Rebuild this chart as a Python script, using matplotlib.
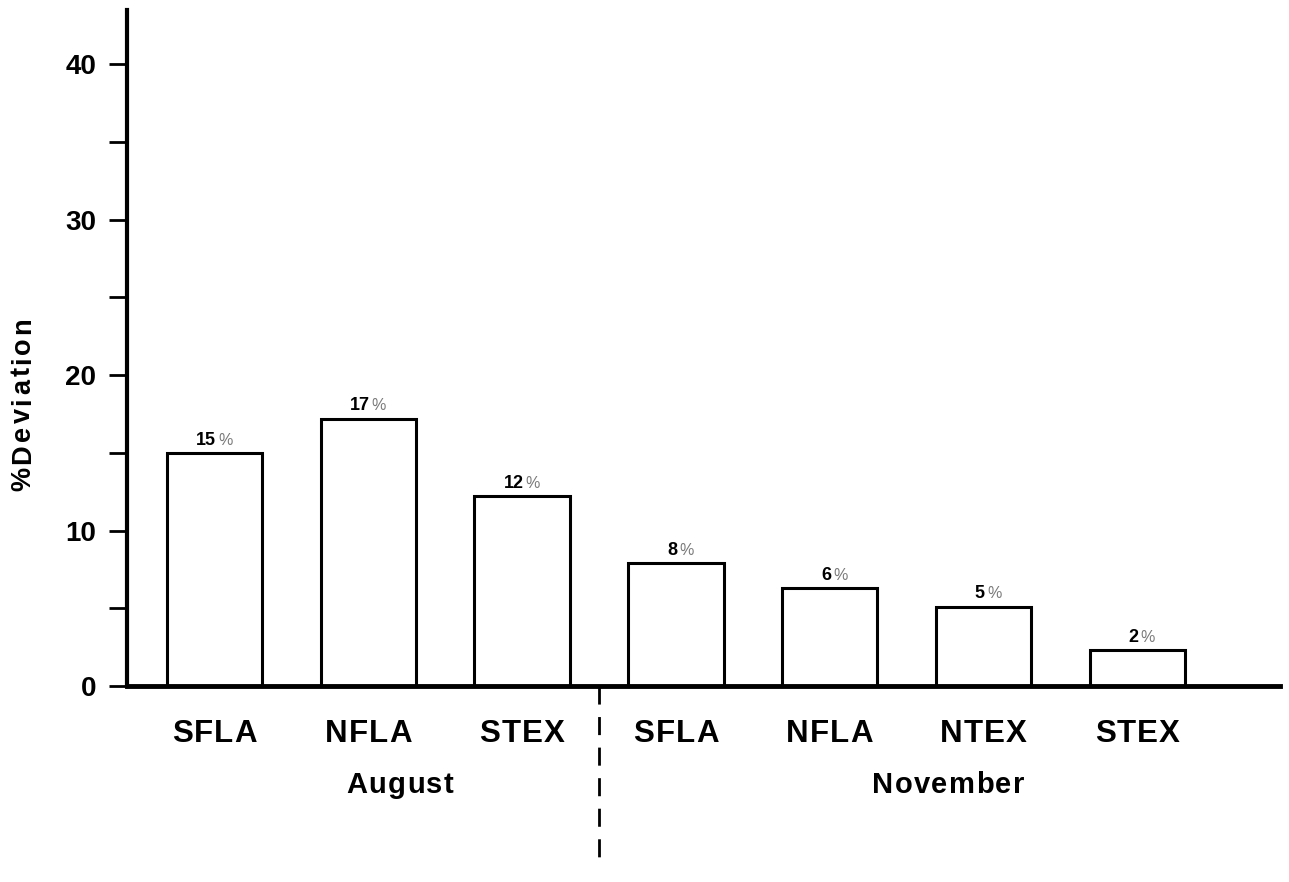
import matplotlib
matplotlib.use("Agg")
import matplotlib.pyplot as plt
from matplotlib.font_manager import FontProperties, findfont, get_font

categories = ["SFLA", "NFLA", "STEX", "SFLA", "NFLA", "NTEX", "STEX"]
values = [15.0, 17.2, 12.2, 7.9, 6.3, 5.1, 2.3]
bar_labels = ["15", "17", "12", "8", "6", "5", "2"]
groups = ["August", "November"]
group_centers = [1.206, 4.77]
yticks = [0, 10, 20, 30, 40]
yminor = [5, 15, 25, 35]

FAMILY = ['Liberation Sans', 'DejaVu Sans']
plt.rcParams['font.family'] = FAMILY


def char_advances(s, size, weight):
    fp = FontProperties(family=FAMILY, size=size, weight=weight)
    font = get_font(findfont(fp))
    font.set_size(size, 72)
    return [font.load_char(ord(c)).linearHoriAdvance / 65536 for c in s]


def tracked(ax, xy, s, size, track, xycoords='data', offset=(0, 0),
            rotation=0, weight='bold', color='black'):
    adv = char_advances(s, size, weight)
    total = sum(adv) + track * (len(s) - 1)
    pos = -total / 2
    for c, a in zip(s, adv):
        if rotation == 0:
            off = (offset[0] + pos, offset[1])
        else:
            off = (offset[0], offset[1] + pos)
        ax.annotate(c, xy, xycoords=xycoords, xytext=off, textcoords='offset points',
                    ha='left', va='baseline', rotation=rotation, rotation_mode='anchor',
                    fontsize=size, fontweight=weight, color=color, annotation_clip=False)
        pos += a + track


fig = plt.figure(figsize=(12.89, 8.82), dpi=100)
ax = fig.add_axes([127/1289, 1-686/882, (1280-127)/1289, (686-10)/882])

x = list(range(len(values)))
ax.bar(x, values, width=0.62, facecolor='white', edgecolor='black', linewidth=2.2, zorder=2)

for xi, v, lab in zip(x, values, bar_labels):
    ax.annotate(lab, (xi, v), xytext=(1, 6), textcoords='offset points',
                ha='right', va='baseline', fontsize=13, fontweight='bold')
    ax.annotate('%', (xi, v), xytext=(2.5, 6), textcoords='offset points',
                ha='left', va='baseline', fontsize=11.5, color='#7a7a7a')

ax.set_xlim(-0.569, 6.928)
ax.set_ylim(0, 43.5)
for s in ['top', 'right']:
    ax.spines[s].set_visible(False)
ax.spines['left'].set_linewidth(3)
ax.spines['bottom'].set_linewidth(3.5)

ax.set_yticks(yticks)
ax.set_yticks(yminor, minor=True)
ax.set_yticklabels([str(t) for t in yticks], fontsize=20, fontweight='bold')
ax.tick_params(axis='y', which='both', direction='out', length=13, width=2, pad=9)
ax.set_xticks(x)
ax.set_xticklabels([])
ax.tick_params(axis='x', length=0)

for xi, c in zip(x, categories):
    tracked(ax, (xi, 0), c, 22.5, 0.8, offset=(0, -40))

for g, c in zip(groups, group_centers):
    tracked(ax, (c, 0), g, 21, 1.0, offset=(0, -77))

tracked(ax, (-0.0841, 0.417), "%Deviation", 19.5, 2.2, xycoords='axes fraction', rotation=90)

ax.plot([2.5, 2.5], [0, -11.0], clip_on=False,
        color='black', linewidth=2.0, linestyle=(0, (6.5, 4.5)))

fig.savefig('out.png', dpi=100)
